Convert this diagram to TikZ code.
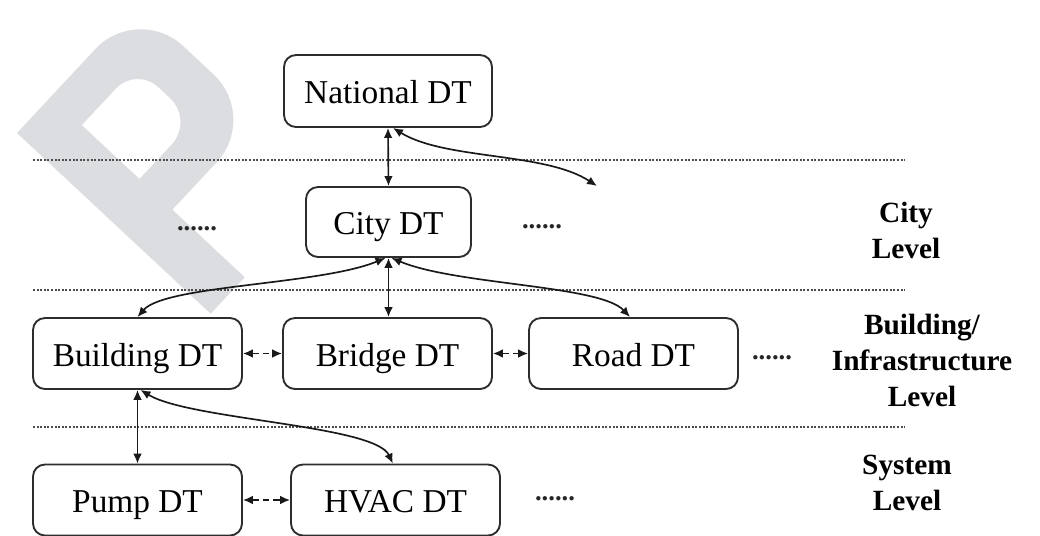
\documentclass[tikz,border=0pt]{standalone}
\usepackage{fontspec}
\setmainfont{Liberation Serif}
\usetikzlibrary{arrows.meta}
\definecolor{wm}{RGB}{220,221,224}
\definecolor{boxline}{RGB}{45,45,45}
\begin{document}
\begin{tikzpicture}[x=0.75pt,y=-0.75pt,
  dtbox/.style={draw=boxline, line width=1.4pt, rounded corners=9pt, fill=white, minimum width=156.75pt, minimum height=53.25pt, font=\fontsize{25}{30}\selectfont, text height=19pt, text depth=0pt, inner sep=0pt},
  sep/.style={draw=black!70, line width=1pt, dash pattern=on 1.5pt off 1.2pt},
  link/.style={draw=black!90, line width=1.25pt, {Latex[length=7.5pt,width=6.5pt]}-{Latex[length=7.5pt,width=6.5pt]}},
  peer/.style={link, dash pattern=on 5pt off 3pt},
  more/.style={font=\fontsize{20}{24}\selectfont\bfseries, anchor=base, inner sep=0pt, text=black!85},
  lvl/.style={font=\fontsize{22}{27}\selectfont\bfseries, align=center, inner sep=0pt}
]
\useasboundingbox (0,0) rectangle (1040,536);
% watermark
\begin{scope}[shift={(17,133)}, x={(0.5115pt,0.548pt)}, y={(0.548pt,-0.5115pt)}]
 \fill[wm, even odd rule] (0,0) -- (115,0) .. controls (149.2,0) and (177,27.8) .. (177,62) -- (177,104) .. controls (177,138.2) and (149.2,166) .. (115,166) -- (50,166) -- (50,265) -- (0,265) -- cycle
 (50,42) -- (100,42) .. controls (116.6,42) and (130,55.4) .. (130,72) -- (130,88) .. controls (130,106.2) and (115.2,121) .. (97,121) -- (50,121) -- cycle;
\end{scope}
% separators
\draw[sep] (33,160) -- (905,160);
\draw[sep] (33,290) -- (905,290);
\draw[sep] (33,427) -- (905,427);
% nodes
\node[dtbox, minimum width=156pt, minimum height=54pt] (national) at (388,91) {National DT};
\node[dtbox, minimum width=123.75pt, minimum height=52.5pt] (city) at (388.5,222) {City DT};
\node[dtbox] (building) at (137.5,353.5) {Building DT};
\node[dtbox] (bridge) at (387.5,353.5) {Bridge DT};
\node[dtbox] (road) at (633.5,353.5) {Road DT};
\node[dtbox] (pump) at (137.5,500) {Pump DT};
\node[dtbox] (hvac) at (395.5,500) {HVAC DT};
% dots
\node[more] (d1) at (197,230) {......};
\node[more] (d2) at (542,228) {......};
\node[more] (d3) at (772,359) {......};
\node[more] (d4) at (555,500) {......};
% level labels
\node[lvl] (l1) at (906,230) {City\\Level};
\node[lvl] (l2) at (922,360) {Building/\\Infrastructure\\Level};
\node[lvl] (l3) at (907,483) {System\\Level};
% connectors
\coordinate (natfree) at (597,186);
\draw[link] (national.south) -- (city.north);
\draw[link] ([xshift=3.75pt]national.south) .. controls (445,160) and (545,152) .. (natfree);
\draw[link] (city.south) -- (city.south |- bridge.north);
\draw[link] ([xshift=-2.25pt]city.south) .. controls (320,285) and (165,285) .. (building.north);
\draw[link] ([xshift=2.25pt]city.south) .. controls (456,285) and (600,285) .. ([xshift=-2.6pt]road.north);
\draw[peer] (building.east) -- (bridge.west);
\draw[peer] (bridge.east) -- (road.west);
\draw[peer] (pump.east) -- (hvac.west);
\draw[link] (building.south) -- (pump.north);
\draw[link] ([xshift=2.25pt]building.south) .. controls (190,420) and (375,425) .. ([xshift=-2pt]hvac.north);
\end{tikzpicture}
\end{document}
